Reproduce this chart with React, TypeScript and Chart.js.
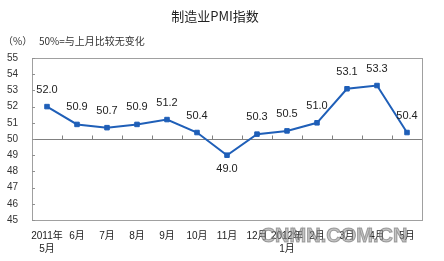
import React, { useEffect, useRef } from "react";
import { Chart, registerables } from "chart.js";

Chart.register(...registerables);

const chartTitle = "制造业PMI指数";
const subTitleUnit = "（%）";
const subTitleNote = "50%=与上月比较无变化";
const watermark = "CNMN.COM.CN";

const categories: string[][] = [
  ["2011年", "5月"],
  ["6月"],
  ["7月"],
  ["8月"],
  ["9月"],
  ["10月"],
  ["11月"],
  ["12月"],
  ["2012年", "1月"],
  ["2月"],
  ["3月"],
  ["4月"],
  ["5月"],
];

const pmiValues: number[] = [52.0, 50.9, 50.7, 50.9, 51.2, 50.4, 49.0, 50.3, 50.5, 51.0, 53.1, 53.3, 50.4];

// label positions: true = below point
const labelBelow: boolean[] = [false, false, false, false, false, false, true, false, false, false, false, false, false];

const yMin = 45;
const yMax = 55;
const baseLine = 50;

const LINE_COLOR = "#1f5fb8";
const FONT = "'Liberation Sans', Arial, 'Noto Sans CJK SC', sans-serif";
const NARROW = "'Liberation Sans Narrow', 'Liberation Sans', Arial, 'Noto Sans CJK SC', sans-serif";
const CJK = "'Noto Sans CJK SC', 'Liberation Sans', sans-serif";

const decorPlugin = {
  id: "decor",
  beforeDatasetsDraw(chart: any) {
    const { ctx, chartArea: a, scales } = chart;
    const x = scales.x;
    const y = scales.y;
    ctx.save();
    // border
    ctx.strokeStyle = "#a0a0a0";
    ctx.lineWidth = 1;
    ctx.strokeRect(Math.round(a.left) + 0.5, Math.round(a.top) + 0.5, Math.round(a.right - a.left), Math.round(a.bottom - a.top));
    // baseline at 50
    const yb = Math.round(y.getPixelForValue(baseLine)) + 0.5;
    ctx.strokeStyle = "#808080";
    ctx.beginPath();
    ctx.moveTo(a.left, yb);
    ctx.lineTo(a.right, yb);
    ctx.stroke();
    // category boundary ticks on baseline
    const n = categories.length;
    const w = (a.right - a.left) / n;
    ctx.beginPath();
    for (let i = 1; i < n; i++) {
      const px = Math.round(a.left + i * w) + 0.5;
      ctx.moveTo(px, yb);
      ctx.lineTo(px, yb - 4);
    }
    ctx.stroke();
    // y ticks inward
    ctx.strokeStyle = "#909090";
    ctx.beginPath();
    for (let v = yMin; v <= yMax; v++) {
      const py = Math.round(y.getPixelForValue(v)) + 0.5;
      ctx.moveTo(a.left, py);
      ctx.lineTo(a.left + 3, py);
    }
    ctx.stroke();
    ctx.restore();
  },
  afterDatasetsDraw(chart: any) {
    const { ctx } = chart;
    const meta = chart.getDatasetMeta(0);
    ctx.save();
    ctx.fillStyle = "#222";
    ctx.font = `11px ${FONT}`;
    ctx.textAlign = "center";
    ctx.textBaseline = "middle";
    meta.data.forEach((pt: any, i: number) => {
      const off = labelBelow[i] ? 14 : -17;
      ctx.fillText(pmiValues[i].toFixed(1), pt.x, pt.y + off);
    });
    ctx.restore();
  },
  afterDraw(chart: any) {
    const { ctx } = chart;
    ctx.save();
    ctx.fillStyle = "#222";
    ctx.textBaseline = "middle";
    ctx.textAlign = "center";
    ctx.font = `13px ${CJK}`;
    ctx.fillText(chartTitle, 215, 16);
    ctx.textAlign = "left";
    ctx.font = `10px ${CJK}`;
    ctx.fillStyle = "#333";
    ctx.fillText(subTitleUnit, 3, 41);
    ctx.fillText(subTitleNote, 39, 41);
    // watermark
    ctx.font = `bold 20px ${FONT}`;
    ctx.textAlign = "center";
    ctx.fillStyle = "rgba(150,150,150,0.55)";
    ctx.strokeStyle = "rgba(110,110,110,0.6)";
    ctx.lineWidth = 1;
    ctx.fillText(watermark, 334, 236);
    ctx.strokeText(watermark, 334, 236);
    ctx.restore();
  },
};

export default function App() {
  const ref = useRef<HTMLCanvasElement | null>(null);
  useEffect(() => {
    if (!ref.current) return;
    const chart = new Chart(ref.current, {
      type: "line",
      data: {
        labels: categories,
        datasets: [
          {
            data: pmiValues,
            borderColor: LINE_COLOR,
            backgroundColor: LINE_COLOR,
            borderWidth: 2,
            pointStyle: "rect",
            pointRadius: 3.2,
            pointBorderWidth: 1,
            pointBorderColor: LINE_COLOR,
            pointBackgroundColor: LINE_COLOR,
            tension: 0,
          },
        ],
      },
      options: {
        animation: false,
        responsive: false,
        maintainAspectRatio: false,
        layout: { padding: { top: 58, right: 22, left: 0, bottom: 0 } },
        plugins: {
          legend: { display: false },
          title: { display: false },
          tooltip: { enabled: false },
        },
        scales: {
          x: {
            type: "category",
            offset: true,
            grid: { display: false, drawTicks: false },
            border: { display: false },
            ticks: {
              autoSkip: false,
              maxRotation: 0,
              minRotation: 0,
              padding: 10,
              color: "#222",
              font: { size: 10, lineHeight: 1.3, family: FONT },
            },
            afterFit(scale: any) {
              scale.height = 41;
            },
          },
          y: {
            min: yMin,
            max: yMax,
            grid: { display: false, drawTicks: false },
            border: { display: false },
            ticks: {
              stepSize: 1,
              padding: 14,
              color: "#333",
              font: { size: 10, family: NARROW },
            },
            afterFit(scale: any) {
              scale.width = 32;
            },
          },
        },
      },
      plugins: [decorPlugin],
    });
    return () => chart.destroy();
  }, []);
  return (
    <div style={{ position: "absolute", left: 0, top: 0, width: 444, height: 261, background: "#fff" }}>
      <canvas ref={ref} width={444} height={261} style={{ display: "block", width: 444, height: 261 }} />
    </div>
  );
}
